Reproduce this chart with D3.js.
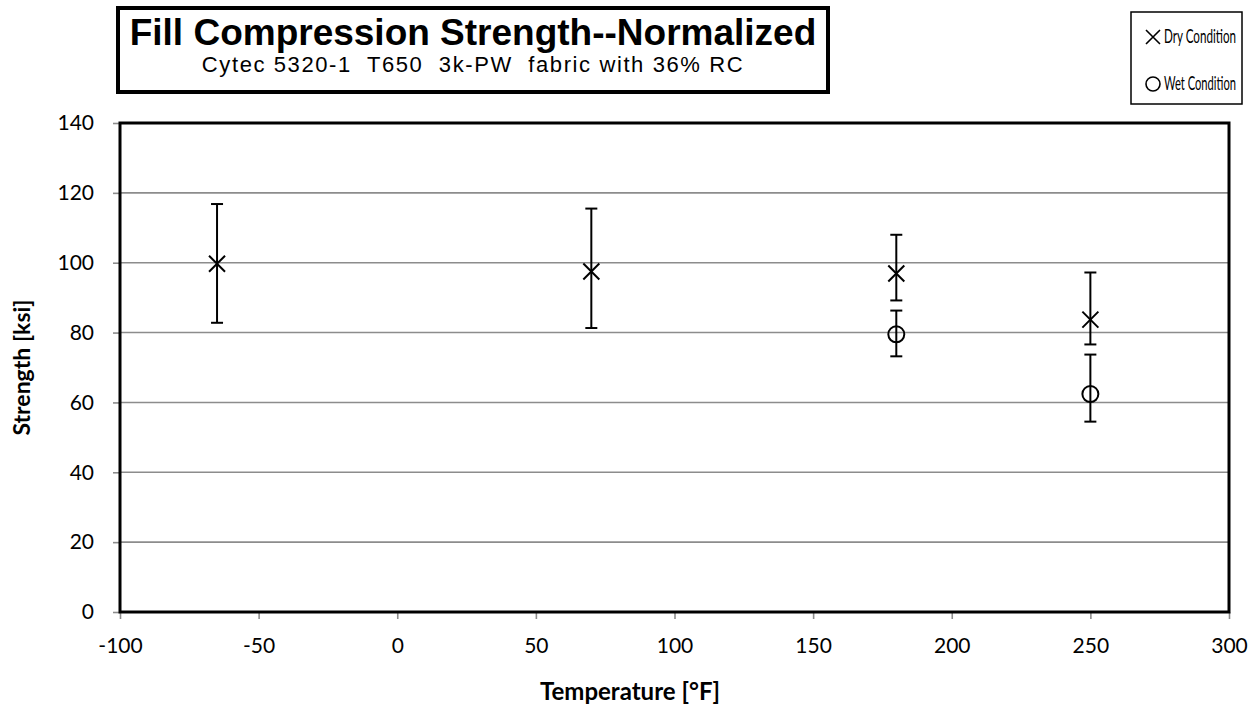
<!DOCTYPE html>
<html>
<head>
<meta charset="utf-8">
<script src="https://cdn.jsdelivr.net/npm/d3@7"></script>
<style>
  body { margin: 0; background: #fff; }
  svg text { font-family: Lato, "DejaVu Sans", sans-serif; }
</style>
</head>
<body>
<div id="chart"></div>
<script>
// data
var dryTemps = [-65, 70, 180, 250];
var dryMean  = [99.7, 97.5, 96.9, 83.7];
var dryHigh  = [116.8, 115.5, 108.0, 97.2];
var dryLow   = [82.8, 81.3, 89.2, 76.6];

var wetTemps = [180, 250];
var wetMean  = [79.5, 62.4];
var wetHigh  = [86.3, 73.7];
var wetLow   = [73.2, 54.5];

var xTicks = [-100, -50, 0, 50, 100, 150, 200, 250, 300];
var yTicks = [0, 20, 40, 60, 80, 100, 120, 140];

var W = 1260, H = 707;
var plot = {left: 120, top: 123, right: 1229, bottom: 612};

var svg = d3.select("#chart").append("svg")
            .attr("width", W)
            .attr("height", H);

var x = d3.scaleLinear().domain([-100, 300]).range([plot.left, plot.right]);
var y = d3.scaleLinear().domain([0, 140]).range([plot.bottom, plot.top]);

// gridlines
svg.append("g").selectAll("line")
   .data(yTicks.filter(function(d){ return d > 0 && d < 140; }))
   .enter().append("line")
   .attr("x1", plot.left).attr("x2", plot.right)
   .attr("y1", function(d){ return y(d); })
   .attr("y2", function(d){ return y(d); })
   .style("stroke", "#8c8c8c")
   .style("stroke-width", 1.6);

// axes (gray ticks, plain hyphen labels)
var plain = function(d){ return String(d); };
var yAxis = svg.append("g")
               .attr("transform", "translate(" + plot.left + ",0)")
               .call(d3.axisLeft(y).tickValues(yTicks).tickFormat(plain).tickSize(7).tickPadding(19));
var xAxis = svg.append("g")
               .attr("transform", "translate(0," + plot.bottom + ")")
               .call(d3.axisBottom(x).tickValues(xTicks).tickFormat(plain).tickSize(7).tickPadding(19));

[xAxis, yAxis].forEach(function(a){
  a.select(".domain").remove();
  a.selectAll(".tick line").style("stroke", "#8c8c8c").style("stroke-width", 1.6);
  a.selectAll(".tick text").style("font-size", "21px").style("fill", "#000")
   .style("font-family", "Lato, sans-serif");
});

// plot frame
svg.append("rect")
   .attr("x", plot.left).attr("y", plot.top)
   .attr("width", plot.right - plot.left)
   .attr("height", plot.bottom - plot.top)
   .style("fill", "none")
   .style("stroke", "#000")
   .style("stroke-width", 3);

// error bars
function drawBars(temps, lo, hi){
  var g = svg.append("g").style("stroke", "#000").style("stroke-width", 2);
  temps.forEach(function(t, i){
    g.append("line").attr("x1", x(t)).attr("x2", x(t)).attr("y1", y(lo[i])).attr("y2", y(hi[i]));
    g.append("line").attr("x1", x(t) - 6).attr("x2", x(t) + 6).attr("y1", y(lo[i])).attr("y2", y(lo[i]));
    g.append("line").attr("x1", x(t) - 6).attr("x2", x(t) + 6).attr("y1", y(hi[i])).attr("y2", y(hi[i]));
  });
}
drawBars(dryTemps, dryLow, dryHigh);
drawBars(wetTemps, wetLow, wetHigh);

svg.append("g").selectAll("path")
   .data(dryTemps)
   .enter().append("path")
   .attr("d", "M-8,-8L8,8M-8,8L8,-8")
   .attr("transform", function(d, i){ return "translate(" + x(d) + "," + y(dryMean[i]) + ")"; })
   .style("stroke", "#000").style("stroke-width", 2).style("fill", "none");

svg.append("g").selectAll("circle")
   .data(wetTemps)
   .enter().append("circle")
   .attr("cx", function(d){ return x(d); })
   .attr("cy", function(d, i){ return y(wetMean[i]); })
   .attr("r", 8)
   .style("stroke", "#000").style("stroke-width", 2).style("fill", "none");

// axis titles
svg.append("text")
   .attr("x", 630)
   .attr("y", 700)
   .attr("text-anchor", "middle")
   .style("font-size", "24px").style("font-weight", "bold")
   .text("Temperature [°F]");

svg.append("text")
   .attr("transform", "translate(30," + (plot.top + plot.bottom) / 2 + ") rotate(-90)")
   .attr("text-anchor", "middle")
   .style("font-size", "23px").style("font-weight", "bold")
   .text("Strength [ksi]");

// title box
svg.append("rect")
   .attr("x", 118).attr("y", 8)
   .attr("width", 710).attr("height", 84)
   .style("fill", "#fff").style("stroke", "#000").style("stroke-width", 4);

svg.append("text")
   .attr("x", 473).attr("y", 45)
   .attr("text-anchor", "middle")
   .style("font-family", "'Liberation Sans', Arial, sans-serif")
   .style("font-size", "37px").style("font-weight", "bold")
   .text("Fill Compression Strength--Normalized");

svg.append("text")
   .attr("x", 473).attr("y", 72)
   .attr("text-anchor", "middle")
   .attr("xml:space", "preserve")
   .style("white-space", "pre")
   .style("font-family", "'Liberation Sans', Arial, sans-serif")
   .style("font-size", "22px")
   .style("letter-spacing", "1.6px")
   .text("Cytec 5320-1  T650  3k-PW  fabric with 36% RC");

// legend
var legend = svg.append("g");
legend.append("rect")
      .attr("x", 1131).attr("y", 12)
      .attr("width", 111).attr("height", 92)
      .style("fill", "#fff").style("stroke", "#000").style("stroke-width", 1.5);

var legendItems = ["Dry Condition", "Wet Condition"];
legendItems.forEach(function(name, i){
  var cy = 37 + i * 47;
  if(i == 0)
    legend.append("path").attr("d", "M-7,-7L7,7M-7,7L7,-7")
          .attr("transform", "translate(1153," + cy + ")")
          .style("stroke", "#000").style("stroke-width", 1.6).style("fill", "none");
  else
    legend.append("circle").attr("cx", 1153).attr("cy", cy).attr("r", 7)
          .style("stroke", "#000").style("stroke-width", 1.6).style("fill", "none");
  legend.append("text")
        .attr("x", 1164).attr("y", cy + 6)
        .attr("textLength", 72)
        .attr("lengthAdjust", "spacingAndGlyphs")
        .style("font-size", "19px")
        .text(name);
});
</script>
</body>
</html>
